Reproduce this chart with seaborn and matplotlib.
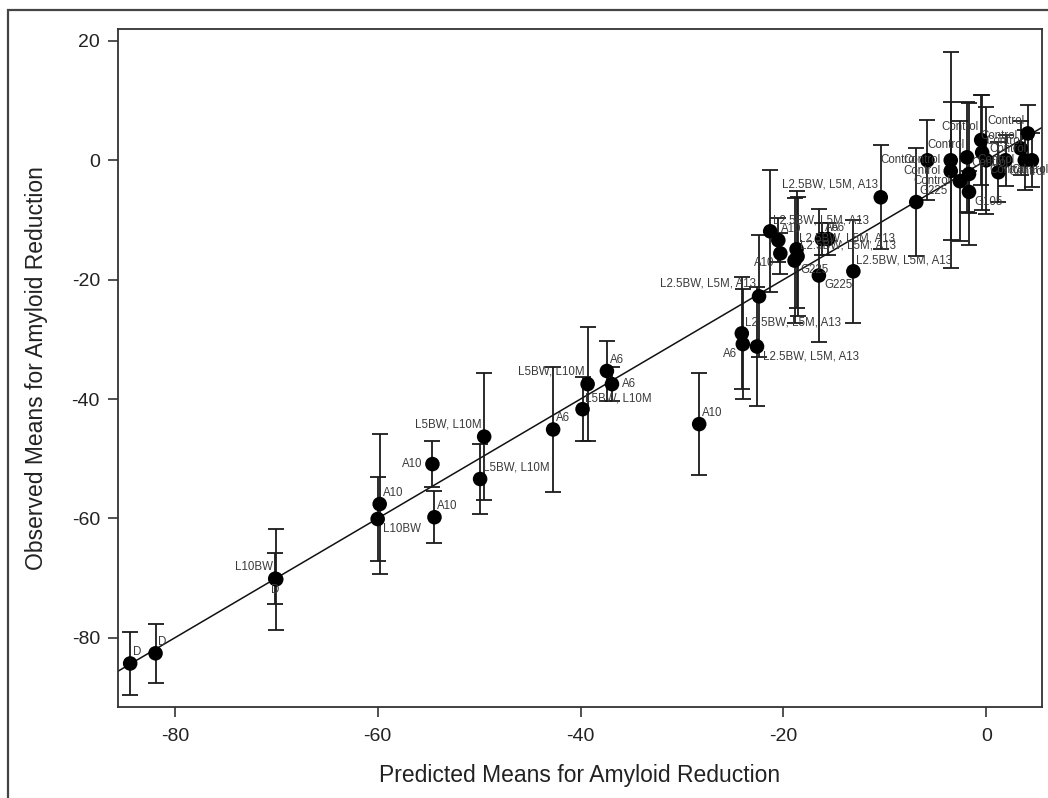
import pandas as pd
import matplotlib.pyplot as plt
import seaborn as sns
from matplotlib.patches import Rectangle

# predicted vs observed means (with half-width of the error bar)
predicted = [-84.4, -81.9, -70.0, -70.1, -59.8, -60.0, -54.6, -54.4, -49.5, -49.9,
             -42.7, -39.3, -39.8, -37.4, -36.9, -28.3,
             -24.1, -24.0, -22.6, -22.4, -21.3, -20.5, -20.3, -18.7, -18.6, -18.9,
             -16.2, -15.6, -16.5, -13.1, -10.4,
             -6.9, -5.8, -3.5, -3.5, -2.6, -1.9, -1.7, -1.7, -0.5, -0.4,
             0.0, 1.2, 1.9, 3.4, 4.1, 3.8, 4.5]
observed = [-84.3, -82.6, -70.2, -70.1, -57.6, -60.1, -50.9, -59.8, -46.3, -53.4,
            -45.1, -37.5, -41.7, -35.3, -37.5, -44.2,
            -29.0, -30.8, -31.2, -22.8, -11.9, -13.4, -15.6, -14.9, -16.1, -16.8,
            -13.2, -13.2, -19.3, -18.6, -6.2,
            -7.0, 0.0, 0.0, -1.8, -3.5, 0.5, -2.3, -5.3, 3.4, 1.3,
            0.0, -2.0, 0.0, 2.0, 4.5, 0.0, 0.0]
half_ci = [5.3, 4.9, 8.5, 4.3, 11.7, 7.1, 3.9, 4.4, 10.6, 5.9,
           10.4, 9.5, 5.4, 5.1, 2.8, 8.5,
           9.4, 9.2, 9.9, 10.2, 10.2, 3.7, 3.5, 9.8, 10.0, 10.4,
           2.7, 2.7, 11.1, 8.6, 8.7,
           9.0, 6.7, 18.1, 11.5, 10.0, 9.2, 11.9, 3.5, 7.5, 9.7,
           9.0, 5.0, 4.3, 4.5, 4.7, 5.0, 4.5]
L25 = 'L2.5BW, L5M, A13'
LBW = 'L5BW, L10M'
groups = ['D', 'D', 'L10BW', 'D', 'A10', 'L10BW', 'A10', 'A10', LBW, LBW,
          'A6', LBW, LBW, 'A6', 'A6', 'A10',
          L25, 'A6', L25, L25, L25, 'A10', 'A10', L25, L25, 'G225',
          'A6', 'A6', 'G225', L25, L25,
          'G225', 'Control', 'Control', 'Control', 'Control', 'Control', 'Control', 'G105',
          'Control', 'Control', 'Control', 'Control', 'Control', 'Control', 'Control',
          'Control', 'Control']

# where each label sits around its point
label_side = ['ne', 'ne', 'nw', 's', 'ne', 'se', 'w', 'ne', 'nw', 'ne',
              'ne', 'nw', 'ne', 'ne', 'e', 'ne',
              'ne', 'sw', 'se', 'nw', 'ne', 'ne', 'sw', 'ne', 'ne', 'se',
              'ne', 'ne', 'se', 'ne', 'nw',
              'ne', 'w', 'w', 'w', 'w', 'nw', 'ne', 'se', 'nw', 'ne',
              'ne', 'e', 'se', 'nw', 'nw', 'w', 'sw']
offsets = {'ne': (2, 8, 'left'), 'nw': (-2, 9, 'right'), 'se': (4, -7, 'left'),
           'sw': (-4, -7, 'right'), 'e': (7, 0, 'left'), 'w': (-7, 0, 'right'),
           's': (0, -8, 'center')}

df = pd.DataFrame({'pred': predicted, 'obs': observed, 'err': half_ci, 'group': groups})

sns.set_style('ticks')
plt.rcParams['font.family'] = ['Liberation Sans', 'DejaVu Sans']
plt.rcParams['axes.unicode_minus'] = False

fig = plt.figure(figsize=(10.48, 7.98), dpi=100)
ax = fig.add_axes([0.1126, 0.114, 0.8817, 0.8497])

# outer frame of the figure (only top and left visible)
fig.add_artist(Rectangle((8 / 1048, -0.2), 1.2, 0.2 + 1 - 10 / 798, transform=fig.transFigure,
                         fill=False, edgecolor='#444444', linewidth=1.6, clip_on=False))

ax.axline((0, 0), slope=1, color='#111111', linewidth=1.1, zorder=1)
ax.errorbar(df['pred'], df['obs'], yerr=df['err'], fmt='none', ecolor='#1a1a1a',
            elinewidth=1.3, capsize=5.5, capthick=1.3, zorder=2)
sns.scatterplot(data=df, x='pred', y='obs', color='black', s=110, edgecolor='none',
                zorder=3, ax=ax, legend=False)

for (_, row), side in zip(df.iterrows(), label_side):
    dx, dy, ha = offsets[side]
    ax.annotate(row['group'], (row['pred'], row['obs']), textcoords='offset points',
                xytext=(dx, dy), ha=ha, va='center', fontsize=8.3, color='#3a3a3a', zorder=4)

ax.set_xlim(-85.6, 5.5)
ax.set_ylim(-91.6, 22.0)
ax.set_xticks([-80, -60, -40, -20, 0])
ax.set_yticks([20, 0, -20, -40, -60, -80])
ax.tick_params(direction='out', length=7, width=1.2, color='#333333', labelsize=14,
               labelcolor='#222222')
ax.tick_params(axis='x', pad=8)
ax.tick_params(axis='y', pad=6)
for s in ax.spines.values():
    s.set_visible(True)
    s.set_color('#333333')
    s.set_linewidth(1.3)

ax.set_xlabel('Predicted Means for Amyloid Reduction', fontsize=16.5, color='#222222', labelpad=14)
ax.set_ylabel('Observed Means for Amyloid Reduction', fontsize=16.5, color='#222222', labelpad=17)

fig.savefig('out.png', dpi=100)
